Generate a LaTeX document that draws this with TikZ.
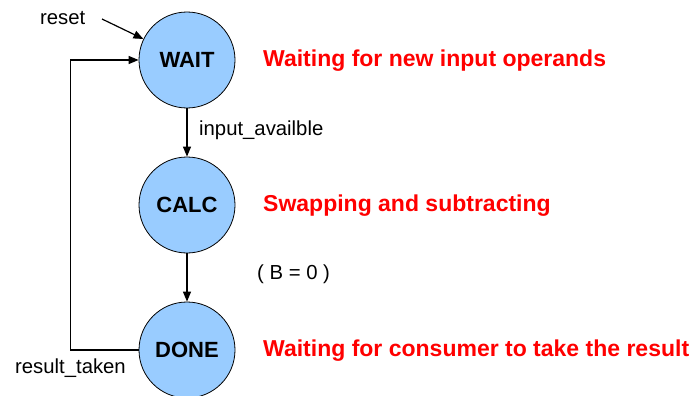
\documentclass[tikz,border=0pt]{standalone}
\usepackage{fontspec}
\setmainfont{Liberation Sans}
\usetikzlibrary{arrows.meta}
\definecolor{stfill}{HTML}{99CCFF}
\definecolor{notered}{HTML}{FF0000}
\begin{document}
\begin{tikzpicture}[x=1pt,y=-1pt,
  state/.style={circle,draw=black,line width=0.8pt,fill=stfill,minimum size=96pt,inner sep=0pt,
    font=\fontsize{22}{26}\selectfont\bfseries},
  conn/.style={line width=1.2pt,-{Triangle[length=10pt,width=8pt]}},
  lbl/.style={anchor=base west,inner sep=0pt,font=\fontsize{20.3}{24}\selectfont},
  note/.style={anchor=base west,inner sep=0pt,text=notered,font=\fontsize{23}{27}\selectfont\bfseries}]
\useasboundingbox (0,0) rectangle (696,396);
\node[state] (wait) at (187,60) {WAIT};
\node[state] (calc) at (187,205) {CALC};
\node[state] (done) at (187,350) {DONE};
\coordinate (rst) at (102,19);
\draw[conn] (rst) -- (wait);
\draw[conn] (wait.south) -- (calc.north);
\draw[conn] (calc.south) -- (done.north);
\draw[conn] (done.west) -- ++(-68,0) |- (wait.west);
\node[lbl] (lreset) at (40,25) {reset};
\node[lbl] (linput) at (199,135) {input\_availble};
\node[lbl] (lb) at (257,279) {( B = 0 )};
\node[lbl] (lresult) at (15,373) {result\_taken};
\node[note] (n1) at (263,66.5) {Waiting for new input operands};
\node[note] (n2) at (263,211) {Swapping and subtracting};
\node[note] (n3) at (263,356) {Waiting for consumer to take the result};
\end{tikzpicture}
\end{document}
